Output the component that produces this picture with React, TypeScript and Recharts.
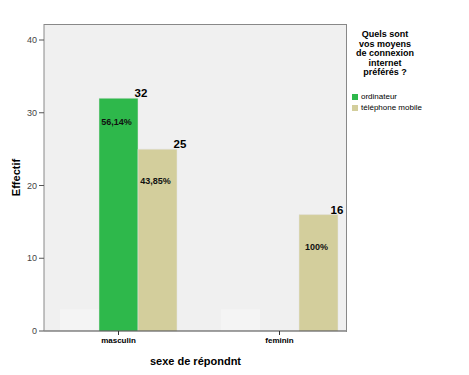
import { BarChart, Bar, XAxis, YAxis, LabelList, CartesianGrid } from "recharts";

const categories = ["masculin", "feminin"];
// first (unnamed) group shows up as a very faint slot in the original
const blankValues = [3, 3];
const ordinateurValues = [32, null];
const mobileValues = [25, 16];
const ordinateurPct = ["56,14%", null];
const mobilePct = ["43,85%", "100%"];
const yTicks = [0, 10, 20, 30, 40];

const legendTitle = ["Quels sont", "vos moyens", "de connexion", "internet", "préférés ?"];
const legendItems = [
  { name: "", color: "#ffffff" },
  { name: "ordinateur", color: "#2eb84b" },
  { name: "téléphone mobile", color: "#d3ce9c" },
];

const data = categories.map((c, i) => ({
  sexe: c,
  blank: blankValues[i],
  ordinateur: ordinateurValues[i],
  mobile: mobileValues[i],
  ordPct: ordinateurPct[i],
  mobPct: mobilePct[i],
}));

const FONT = "'Liberation Sans', Arial, sans-serif";

const valueLabel = (props: any) => {
  const { x, y, width, value } = props;
  if (value == null) return null;
  // keep the count inside the plot frame
  const lx = Math.min(x + width + 3, 337);
  return (
    <text x={lx} y={y - 1} textAnchor="middle" fontSize={11.5} fontWeight="bold" fill="#000" fontFamily={FONT}>
      {value}
    </text>
  );
};

const pctLabel = (dy: number) => (props: any) => {
  const { x, y, width, value } = props;
  if (!value) return null;
  return (
    <text x={x + width / 2 - 2} y={y + dy} textAnchor="middle" fontSize={9} fontWeight="bold" fill="#111" fontFamily={FONT}>
      {value}
    </text>
  );
};

const yLabel = (props: any) => {
  const { viewBox } = props;
  const cx = viewBox.x + 12;
  const cy = viewBox.y + viewBox.height / 2;
  return (
    <text x={cx} y={cy} transform={`rotate(-90 ${cx} ${cy})`} textAnchor="middle" dominantBaseline="central" fontSize={11} fontWeight="bold" fill="#000" fontFamily={FONT}>
      Effectif
    </text>
  );
};

export default function App() {
  return (
    <div style={{ position: "absolute", left: 0, top: 0, width: 469, height: 375, background: "#fff", fontFamily: FONT }}>
      <BarChart
        width={469}
        height={375}
        data={data}
        margin={{ top: 24, right: 122, bottom: 4, left: 4 }}
        barGap={0}
        barSize={39}
      >
        <CartesianGrid horizontal={false} vertical={false} fill="#f0f0f0" />
        <XAxis
          dataKey="sexe"
          height={40}
          padding={{ left: -6, right: -13 }}
          tickSize={4}
          tickMargin={2}
          axisLine={{ stroke: "#444" }}
          tickLine={{ stroke: "#333" }}
          tick={{ fontSize: 8, fontWeight: "bold", fill: "#000", fontFamily: FONT }}
          label={{ value: "sexe de répondnt", position: "insideBottom", offset: 6, fontSize: 11, fontWeight: "bold", fill: "#000", fontFamily: FONT }}
        />
        <YAxis
          width={40}
          domain={[0, 42.2]}
          ticks={yTicks}
          tickSize={5}
          tickMargin={2}
          axisLine={{ stroke: "#888" }}
          tickLine={{ stroke: "#555" }}
          tick={{ fontSize: 9, fill: "#444", fontFamily: FONT }}
          label={yLabel}
        />
        <Bar dataKey="blank" fill="#f4f4f4" isAnimationActive={false} />
        <Bar dataKey="ordinateur" fill="#2eb84b" stroke="#e4e4e4" strokeWidth={0.5} isAnimationActive={false}>
          <LabelList dataKey="ordinateur" content={valueLabel} />
          <LabelList dataKey="ordPct" content={pctLabel(27)} />
        </Bar>
        <Bar dataKey="mobile" fill="#d3ce9c" stroke="#e4e4e4" strokeWidth={0.5} isAnimationActive={false}>
          <LabelList dataKey="mobile" content={valueLabel} />
          <LabelList dataKey="mobPct" content={pctLabel(35)} />
        </Bar>
      </BarChart>
      {/* plot frame (top and right edges) */}
      <div style={{ position: "absolute", left: 44, top: 24, width: 302, height: 307, borderTop: "1px solid #888", borderRight: "1px solid #888", pointerEvents: "none" }} />
      <div style={{ position: "absolute", left: 350, top: 30, width: 70, textAlign: "center", fontSize: 9, fontWeight: "bold", lineHeight: "9.6px", color: "#000" }}>
        {legendTitle.map((t) => (
          <div key={t}>{t}</div>
        ))}
      </div>
      <div style={{ position: "absolute", left: 352, top: 80, fontSize: 8, color: "#000" }}>
        {legendItems.map((it, i) => (
          <div key={i} style={{ display: "flex", alignItems: "center", height: 11 }}>
            <span style={{ display: "inline-block", width: 6, height: 6, background: it.color, marginRight: 3 }} />
            <span>{it.name}</span>
          </div>
        ))}
      </div>
    </div>
  );
}
